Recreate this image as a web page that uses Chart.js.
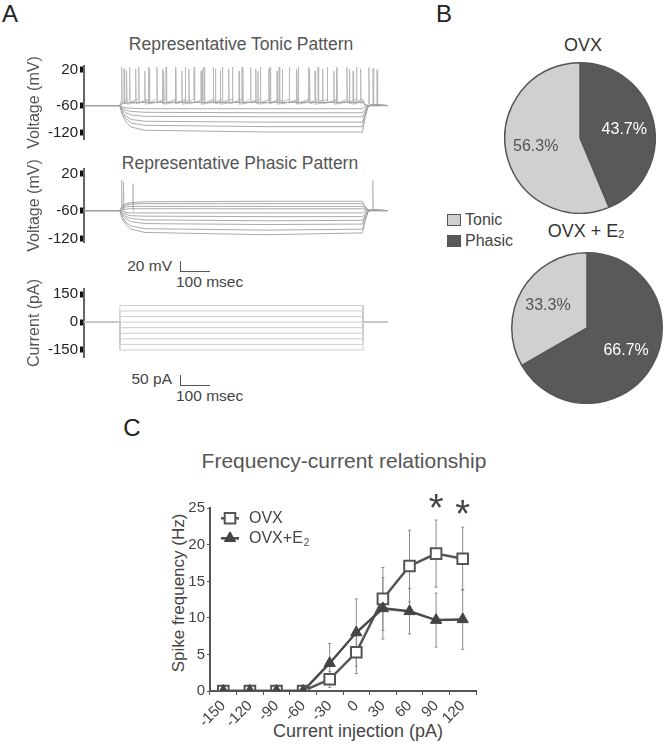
<!DOCTYPE html>
<html>
<head>
<meta charset="utf-8">
<script src="https://cdn.jsdelivr.net/npm/chart.js@4.4.1/dist/chart.umd.min.js"></script>
<style>
  body { margin: 0; background: #fff; font-family: "Liberation Sans", Arial, sans-serif; }
  #fig { position: relative; width: 664px; height: 750px; overflow: hidden; }
  canvas { position: absolute; }
  .t { position: absolute; white-space: nowrap; line-height: 1; color: #555; transform: translate(-50%, -50%); }
  .r { transform: translate(-100%, -50%); }
  .l { transform: translate(0, -50%); }
  .v { transform: translate(-50%, -50%) rotate(-90deg); }
  .bar { position: absolute; border-left: 1px solid #555; border-bottom: 1px solid #555; }
  .key { position: absolute; width: 12px; height: 10px; border: 1px solid #555; }
  sub { font-size: 60%; vertical-align: -0.15em; }
</style>
</head>
<body>
<div id="fig">
  <div class="t" style="left:10px;top:14px;font-size:24px;color:#222">A</div>
  <div class="t" style="left:444px;top:14px;font-size:24px;color:#222">B</div>
  <div class="t" style="left:132px;top:428px;font-size:24px;color:#222">C</div>

  <div class="t" style="left:241px;top:45px;font-size:17.5px">Representative Tonic Pattern</div>
  <div class="t" style="left:240px;top:164px;font-size:17.5px">Representative Phasic Pattern</div>

  <div class="t r" style="left:172px;top:266px;font-size:15.5px;color:#444">20 mV</div>
  <div class="bar" style="left:180px;top:261px;width:29px;height:10px"></div>
  <div class="t l" style="left:176px;top:282px;font-size:15.5px;color:#444">100 msec</div>
  <div class="t r" style="left:172px;top:379px;font-size:15.5px;color:#444">50 pA</div>
  <div class="bar" style="left:180px;top:375px;width:29px;height:10px"></div>
  <div class="t l" style="left:176px;top:396px;font-size:15.5px;color:#444">100 msec</div>

  <div class="t" style="left:583px;top:45px;font-size:18px;color:#333">OVX</div>
  <div class="t" style="left:586px;top:231px;font-size:18px;color:#333">OVX + E<sub>2</sub></div>
  <div class="key" style="left:447px;top:214px;background:#d0d0d1"></div>
  <div class="t l" style="left:465px;top:220px;font-size:16px;color:#444">Tonic</div>
  <div class="key" style="left:447px;top:235px;background:#58595b"></div>
  <div class="t l" style="left:465px;top:241px;font-size:16px;color:#444">Phasic</div>

  <div class="t" style="left:344px;top:460px;font-size:21px">Frequency-current relationship</div>
  <div class="t" style="left:358px;top:731px;font-size:18px;color:#444">Current injection (pA)</div>
  <div class="t v" style="left:178px;top:593px;font-size:17px;color:#444">Spike frequency (Hz)</div>

  <canvas id="tonic" width="400" height="95" style="left:0;top:55px"></canvas>
  <canvas id="phasic" width="400" height="95" style="left:0;top:158px"></canvas>
  <canvas id="current" width="400" height="90" style="left:0;top:278px"></canvas>
  <canvas id="pieOvx" width="152" height="152" style="left:504px;top:62px"></canvas>
  <canvas id="pieE2" width="152" height="152" style="left:511px;top:252px"></canvas>
  <canvas id="fi" width="340" height="270" style="left:150px;top:480px"></canvas>
</div>

<script>
// ---- Panel A: sweeps (time in ms, voltage in mV, current in pA) ----
const restV = -60;
const stepOn = 118;
const stepOff = 918;
const traceTimes = [0, 118, 126, 138, 155, 200, 600, 916, 924, 935, 950, 1000];

const tonicTicks = [20, -60, -120];
const tonicSweeps = [
  [-60, -60, -56, -54, -53, -53, -53, -53, -57, -60, -60, -60],
  [-60, -60, -63, -65, -66, -67, -67, -67, -64, -60, -59, -60],
  [-60, -60, -66, -70, -73, -75, -76, -76, -70, -61, -59, -60],
  [-60, -60, -69, -76, -81, -84, -85, -85, -74, -61, -58, -60],
  [-60, -60, -73, -83, -91, -95, -97, -97, -80, -61, -58, -60],
  [-60, -60, -77, -89, -99, -104, -107, -107, -84, -61, -58, -60],
  [-60, -60, -81, -96, -108, -115, -119, -119, -88, -60, -57, -60]
];
const tonicSpikesA = [124, 150, 180, 212, 240, 270, 302, 333, 362, 395, 425, 455, 488, 520, 548, 580, 612, 642, 675, 705, 738, 770, 800, 832, 865, 896];
const tonicSpikesB = [132, 170, 215, 258, 300, 345, 390, 432, 476, 522, 565, 608, 652, 698, 742, 785, 830, 873, 910];
const tonicSpikesC = [140, 200, 262, 322, 385, 448, 510, 572, 635, 700, 760, 822, 885];
const tonicTrainPeak = [26, 22, 17];
const tonicTrainThresh = [-46, -48, -50];
const tonicTrainAhp = [-54, -56, -57];
const tonicReboundT = [937, 951, 964];
const tonicReboundPeak = [25, 23, 20];

const phasicTicks = [20, -60, -120];
const phasicSweeps = [
  [-60, -60, -50, -45, -43, -41, -40, -40, -50, -58, -60, -60],
  [-60, -60, -52, -48, -46, -45, -45, -45, -53, -59, -60, -60],
  [-60, -60, -55, -52, -51, -51, -51, -51, -56, -60, -60, -60],
  [-60, -60, -58, -57, -56, -56, -56, -56, -58, -60, -60, -60],
  [-60, -60, -62, -64, -65, -65, -65, -65, -62, -60, -60, -60],
  [-60, -60, -65, -68, -71, -72, -73, -73, -67, -61, -60, -60],
  [-60, -60, -68, -73, -77, -80, -82, -81, -71, -61, -59, -60],
  [-60, -60, -71, -78, -84, -88, -90, -89, -75, -61, -59, -60],
  [-60, -60, -75, -85, -93, -99, -102, -100, -80, -61, -58, -60],
  [-60, -60, -78, -90, -100, -107, -112, -108, -84, -60, -58, -60]
];
const phasicSpikeT = [124, 130, 161, 950];
const phasicSpikePeak = [6, 2, -2, 5];

const currentTicks = [150, 0, -150];
const currentSteps = [90, 60, 30, 0, -30, -60, -90, -120, -150];

// ---- Panel B: firing pattern proportions (%) ----
const patternNames = ['Phasic', 'Tonic'];
const ovxPct = [43.7, 56.3];
const e2Pct = [66.7, 33.3];

// ---- Panel C: frequency-current ----
const currentLabels = ['-150', '-120', '-90', '-60', '-30', '0', '30', '60', '90', '120'];
const ovxMean = [0, 0, 0, 0, 1.6, 5.3, 12.6, 17.1, 18.8, 18.1];
const ovxErr = [0, 0, 0, 0, 1.1, 2.9, 4.3, 4.9, 4.6, 4.3];
const e2Mean = [0, 0, 0, 0, 3.8, 8.0, 11.3, 10.9, 9.7, 9.8];
const e2Err = [0, 0, 0, 0, 2.7, 4.6, 4.2, 3.1, 3.7, 4.1];
const sigLabels = ['90', '120'];
const sigY = [26.3, 25.5];

const FONT = '"Liberation Sans", Arial, sans-serif';
Chart.defaults.font.family = FONT;
Chart.defaults.animation = false;
Chart.defaults.plugins.legend.display = false;
Chart.defaults.plugins.tooltip.enabled = false;

const traceColor = '#a0a0a0';
const spikeColor = '#b8b8b8';

function sweepPoints(values) {
  return traceTimes.map((t, k) => ({ x: t, y: values[k] }));
}

function trainPoints(times, peak, thr, ahp) {
  const pts = [{ x: traceTimes[0], y: restV }, { x: stepOn, y: restV }];
  times.forEach(t => {
    pts.push({ x: t - 0.6, y: thr }, { x: t, y: peak }, { x: t + 1.8, y: ahp });
  });
  pts.push({ x: stepOff, y: thr }, { x: stepOff + 6, y: restV }, { x: traceTimes[traceTimes.length - 1], y: restV });
  return pts;
}

function spikePoints(times, peaks) {
  const pts = [];
  times.forEach((t, i) => {
    pts.push({ x: t - 0.6, y: restV + 4 }, { x: t, y: peaks[i] }, { x: t + 1.8, y: restV - 2 }, { x: t + 2, y: null });
  });
  return pts;
}

function lineSet(data, color, width) {
  return { data, borderColor: color, borderWidth: width, pointRadius: 0, fill: false, spanGaps: false, clip: false };
}

function traceOptions(yMin, yMax, ticks, title, pad) {
  return {
    responsive: false,
    layout: { padding: { left: 0, right: 12, top: pad[0], bottom: pad[1] } },
    scales: {
      x: { type: 'linear', min: 0, max: 1000, display: false },
      y: {
        min: yMin, max: yMax,
        afterBuildTicks: s => { s.ticks = ticks.map(v => ({ value: v })); },
        afterFit: s => { s.width = 84; },
        ticks: { color: '#222', font: { size: 15 }, padding: 2, autoSkip: false },
        grid: { drawOnChartArea: false, tickLength: 4, tickWidth: 6, tickColor: '#111' },
        border: { color: '#666', width: 2 },
        title: { display: true, text: title, color: '#555', font: { size: 16 }, padding: { top: 25, bottom: 0 } }
      }
    }
  };
}

// Tonic
const tonicSets = tonicSweeps.map(v => lineSet(sweepPoints(v), traceColor, 0.9));
[tonicSpikesA, tonicSpikesB, tonicSpikesC].forEach((times, i) => {
  tonicSets.push(lineSet(trainPoints(times, tonicTrainPeak[i], tonicTrainThresh[i], tonicTrainAhp[i]), spikeColor, 0.9));
});
tonicSets.push(lineSet(spikePoints(tonicReboundT, tonicReboundPeak), spikeColor, 0.9));
new Chart(document.getElementById('tonic'), {
  type: 'line',
  data: { datasets: tonicSets },
  options: traceOptions(-134.6, 28.4, tonicTicks, 'Voltage (mV)', [8, 9])
});

// Phasic
const phasicSets = phasicSweeps.map(v => lineSet(sweepPoints(v), traceColor, 0.9));
phasicSets.push(lineSet(spikePoints(phasicSpikeT, phasicSpikePeak), spikeColor, 0.9));
new Chart(document.getElementById('phasic'), {
  type: 'line',
  data: { datasets: phasicSets },
  options: traceOptions(-127.6, 29.5, phasicTicks, 'Voltage (mV)', [7, 5])
});

// Current steps
const currentSets = currentSteps.map(level => lineSet([
  { x: traceTimes[0], y: 0 }, { x: stepOn, y: 0 }, { x: stepOn, y: level },
  { x: stepOff, y: level }, { x: stepOff, y: 0 }, { x: traceTimes[traceTimes.length - 1], y: 0 }
], '#c8c8c8', 0.9));
new Chart(document.getElementById('current'), {
  type: 'line',
  data: { datasets: currentSets },
  options: traceOptions(-188, 178.6, currentTicks, 'Current (pA)', [7, 6])
});

// ---- Panel B pies ----
const sliceLabels = {
  id: 'sliceLabels',
  afterDatasetsDraw(chart) {
    const { ctx } = chart;
    const ds = chart.data.datasets[0];
    ctx.save();
    ctx.font = '16px ' + FONT;
    ctx.textAlign = 'center';
    ctx.textBaseline = 'middle';
    chart.getDatasetMeta(0).data.forEach((arc, i) => {
      const p = arc.getProps(['x', 'y', 'startAngle', 'endAngle', 'outerRadius'], true);
      const mid = (p.startAngle + p.endAngle) / 2;
      const r = p.outerRadius * 0.6;
      ctx.fillStyle = ds.labelColors[i];
      ctx.fillText(ds.data[i].toFixed(1) + '%', p.x + Math.cos(mid) * r, p.y + Math.sin(mid) * r);
    });
    ctx.restore();
  }
};

function pie(id, values) {
  new Chart(document.getElementById(id), {
    type: 'pie',
    data: {
      labels: patternNames,
      datasets: [{
        data: values,
        backgroundColor: ['#58595b', '#d0d0d1'],
        borderColor: '#555',
        borderWidth: 1.5,
        labelColors: ['#fff', '#555']
      }]
    },
    options: { responsive: false, layout: { padding: 0 } },
    plugins: [sliceLabels]
  });
}
pie('pieOvx', ovxPct);
pie('pieE2', e2Pct);

// ---- Panel C ----
const errorBars = {
  id: 'errorBars',
  beforeDatasetsDraw(chart) {
    const { ctx, scales: { y } } = chart;
    ctx.save();
    ctx.strokeStyle = '#8c8c8c';
    ctx.lineWidth = 1;
    chart.data.datasets.forEach((ds, i) => {
      chart.getDatasetMeta(i).data.forEach((pt, j) => {
        const e = ds.errors[j];
        if (!e) return;
        const top = y.getPixelForValue(ds.data[j] + e);
        const bot = y.getPixelForValue(ds.data[j] - e);
        ctx.beginPath();
        ctx.moveTo(pt.x, top); ctx.lineTo(pt.x, bot);
        ctx.moveTo(pt.x - 1.5, top); ctx.lineTo(pt.x + 1.5, top);
        ctx.moveTo(pt.x - 1.5, bot); ctx.lineTo(pt.x + 1.5, bot);
        ctx.stroke();
      });
    });
    ctx.restore();
  }
};

const insetLegend = {
  id: 'insetLegend',
  afterDraw(chart) {
    const { ctx, chartArea } = chart;
    ctx.save();
    chart.data.datasets.forEach(ds => {
      const x = chartArea.left + 20;
      const y = chartArea.top + 10 + ds.legendRow * 20;
      ctx.strokeStyle = ds.borderColor;
      ctx.lineWidth = ds.borderWidth;
      ctx.beginPath();
      ctx.moveTo(x - 9, y); ctx.lineTo(x + 9, y);
      ctx.stroke();
      ctx.fillStyle = ds.pointBackgroundColor;
      ctx.strokeStyle = ds.pointBorderColor;
      ctx.lineWidth = ds.pointBorderWidth;
      Chart.helpers.drawPoint(ctx, { pointStyle: ds.pointStyle, radius: ds.pointRadius, borderWidth: ds.pointBorderWidth, rotation: 0 }, x, y);
      ctx.fillStyle = '#444';
      ctx.font = '16px ' + FONT;
      ctx.textBaseline = 'middle';
      ctx.textAlign = 'left';
      const main = ds.label.replace('₂', '');
      ctx.fillText(main, x + 19, y);
      if (ds.label.endsWith('₂')) {
        const w = ctx.measureText(main).width;
        ctx.font = '10px ' + FONT;
        ctx.fillText('2', x + 19 + w + 1, y + 5);
      }
    });
    ctx.restore();
  }
};

const asterisks = {
  id: 'asterisks',
  afterDraw(chart) {
    const { ctx, scales: { x, y } } = chart;
    ctx.save();
    ctx.fillStyle = '#444';
    ctx.font = '38px ' + FONT;
    ctx.textAlign = 'center';
    ctx.textBaseline = 'alphabetic';
    sigLabels.forEach((lab, i) => {
      ctx.fillText('*', x.getPixelForValue(currentLabels.indexOf(lab)), y.getPixelForValue(sigY[i]) + 22);
    });
    ctx.restore();
  }
};

new Chart(document.getElementById('fi'), {
  type: 'line',
  data: {
    labels: currentLabels,
    datasets: [
      {
        label: 'OVX', data: ovxMean, errors: ovxErr, legendRow: 0, order: 2,
        borderColor: '#555', borderWidth: 2.5,
        pointStyle: 'rect', pointRadius: 7.5, pointBorderWidth: 2,
        pointBackgroundColor: '#fff', pointBorderColor: '#555'
      },
      {
        label: 'OVX+E₂', data: e2Mean, errors: e2Err, legendRow: 1, order: 1,
        borderColor: '#4a4a4a', borderWidth: 2.5,
        pointStyle: 'triangle', pointRadius: 6.5, pointBorderWidth: 1,
        pointBackgroundColor: '#444', pointBorderColor: '#444'
      }
    ]
  },
  options: {
    responsive: false,
    layout: { padding: { left: 0, right: 14, top: 28.3, bottom: 0 } },
    scales: {
      x: {
        offset: true,
        afterFit: s => { s.height = 59; },
        ticks: { color: '#444', font: { size: 15 }, minRotation: 45, maxRotation: 45, padding: 2, autoSkip: false },
        grid: { offset: true, drawOnChartArea: false, tickLength: 4, color: '#555' },
        border: { color: '#555', width: 2 }
      },
      y: {
        min: 0, max: 25,
        afterFit: s => { s.width = 60; },
        ticks: { stepSize: 5, color: '#444', font: { size: 15 }, padding: 2 },
        grid: { drawOnChartArea: false, tickLength: 3, color: '#555' },
        border: { color: '#555', width: 2 }
      }
    }
  },
  plugins: [errorBars, insetLegend, asterisks]
});
</script>
</body>
</html>
